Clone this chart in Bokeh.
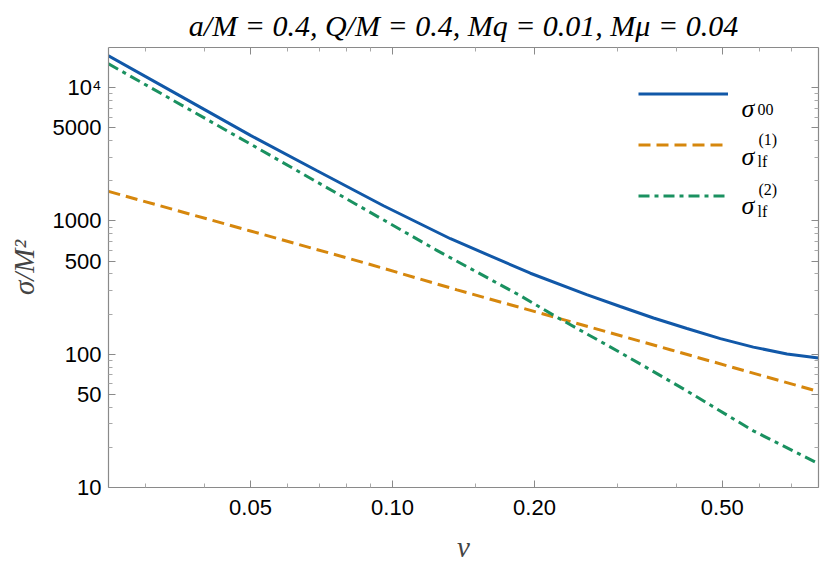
from bokeh.plotting import figure
from bokeh.models import (Range1d, LogAxis, FixedTicker, CustomJSTickFormatter,
                          Legend, LegendItem, Label)
from bokeh.core.properties import value
from bokeh.embed import file_html
from bokeh.resources import INLINE

# ---- data ----
v_00 = [0.025, 0.035, 0.050, 0.0692, 0.0957, 0.1327, 0.196, 0.258, 0.304, 0.3575, 0.421,
        0.4955, 0.582, 0.686, 0.8]
sigma_00 = [17300, 8900, 4380, 2377, 1300, 735, 405, 280, 228, 187, 156,
            131, 113, 100.5, 93.5]

v_lf1 = [0.025, 0.05, 0.0883, 0.137, 0.1866, 0.388, 0.8]
sigma_lf1 = [1665, 840, 479, 304, 224, 108, 52.5]

v_lf2 = [0.025, 0.05, 0.1236, 0.1866, 0.227, 0.304, 0.421, 0.582, 0.8]
sigma_lf2 = [15100, 3770, 607, 275, 183, 103, 53, 26.6, 15.1]

x_major = [0.05, 0.1, 0.2, 0.5]
x_labels = ["0.05", "0.10", "0.20", "0.50"]
x_minor = [0.03, 0.04, 0.06, 0.07, 0.08, 0.09, 0.15, 0.3, 0.4, 0.6, 0.7]

y_major = [10, 50, 100, 500, 1000, 5000, 10000]
y_labels = ["10", "50", "100", "500", "1000", "5000", "10\u2074"]
y_minor = [20, 30, 40, 60, 70, 80, 90, 200, 300, 400, 600, 700, 800, 900,
           2000, 3000, 4000, 6000, 7000, 8000, 9000]

title_text = "a/M = 0.4, Q/M = 0.4, Mq = 0.01, M\u03bc = 0.04"

BLUE = "#1158a8"
ORANGE = "#d6870d"
GREEN = "#1a9160"

SERIF = "Liberation Serif"
SANS = "Liberation Sans"

p = figure(width=822, height=569, x_axis_type="log", y_axis_type="log",
           x_range=Range1d(0.025, 0.8), y_range=Range1d(10, 20000),
           output_backend="svg", toolbar_location=None,
           min_border_left=108, min_border_right=4, min_border_top=46, min_border_bottom=82)
p.grid.visible = False
p.outline_line_color = None
p.background_fill_color = "white"
p.border_fill_color = "white"

def label_formatter(vals, labs):
    return CustomJSTickFormatter(args=dict(vals=vals, labs=labs), code="""
        for (let i = 0; i < vals.length; i++) {
            if (Math.abs(vals[i] - tick) <= 1e-9 * Math.abs(vals[i])) { return labs[i]; }
        }
        return "";
    """)

blank = CustomJSTickFormatter(code='return "";')

def style(ax, labels=True):
    ax.axis_line_color = "#8a8a8a"
    ax.axis_line_width = 1.2
    ax.major_tick_line_color = "#8a8a8a"
    ax.minor_tick_line_color = "#a8a8a8"
    ax.major_tick_in = 7
    ax.major_tick_out = 0
    ax.minor_tick_in = 4
    ax.minor_tick_out = 0
    if labels:
        ax.major_label_text_font = SANS
        ax.major_label_text_font_size = "22px"
        ax.major_label_text_color = "black"
    else:
        ax.major_label_text_font_size = "0px"
        ax.major_label_standoff = 0

xb = p.below[0]
xb.ticker = FixedTicker(ticks=x_major, minor_ticks=x_minor)
xb.formatter = label_formatter(x_major, x_labels)
style(xb)
xb.major_label_standoff = 12
xb.axis_label = "v"
xb.axis_label_text_font = SERIF
xb.axis_label_text_font_style = "italic"
xb.axis_label_text_font_size = "29px"
xb.axis_label_standoff = 13

yl = p.left[0]
yl.ticker = FixedTicker(ticks=y_major, minor_ticks=y_minor)
yl.formatter = label_formatter(y_major, y_labels)
style(yl)
yl.major_label_standoff = 7
yl.axis_label = "\u03c3/M\u00b2"
yl.axis_label_text_font = SERIF
yl.axis_label_text_font_style = "italic"
yl.axis_label_text_font_size = "29px"
yl.axis_label_standoff = 10

xt = LogAxis(ticker=FixedTicker(ticks=x_major, minor_ticks=x_minor), formatter=blank)
style(xt, labels=False)
p.add_layout(xt, "above")
yr = LogAxis(ticker=FixedTicker(ticks=y_major, minor_ticks=y_minor), formatter=blank)
style(yr, labels=False)
p.add_layout(yr, "right")

p.title.text = title_text
p.title.text_font = SERIF
p.title.text_font_style = "italic"
p.title.text_font_size = "30px"
p.title.text_color = "black"
p.title.align = "center"
p.title.standoff = 12

r0 = p.line(v_00, sigma_00, line_color=BLUE, line_width=3)
r1 = p.line(v_lf1, sigma_lf1, line_color=ORANGE, line_width=3, line_dash="12 6")
r2 = p.line(v_lf2, sigma_lf2, line_color=GREEN, line_width=3, line_dash="11 5 4 5")

legend = Legend(items=[LegendItem(label=value(" "), renderers=[r0]),
                       LegendItem(label=value(" "), renderers=[r1]),
                       LegendItem(label=value(" "), renderers=[r2])],
                location=(530, 281), glyph_width=90, glyph_height=21, label_height=21,
                spacing=30, padding=0, margin=0, border_line_alpha=0,
                background_fill_alpha=0, label_text_font_size="1px", label_standoff=0)
p.add_layout(legend)

def text_label(x, y, txt, size, style_="normal", align="left"):
    p.add_layout(Label(x=x, y=y, x_units="screen", y_units="screen", text=txt,
                       text_font=SERIF, text_font_style=style_, text_font_size=size,
                       text_baseline="alphabetic", text_align=align, text_color="black"))

# legend texts
main_size = "26px"
sub_size = "16px"
text_label(633, 379, "\u03c3", main_size, "italic")
text_label(649, 378, "00", sub_size)
text_label(633, 331, "\u03c3", main_size, "italic")
text_label(649, 326, "lf", sub_size)
text_label(650, 348, "(1)", sub_size)
text_label(633, 282, "\u03c3", main_size, "italic")
text_label(649, 276, "lf", sub_size)
text_label(650, 298, "(2)", sub_size)

open("out.html", "w").write(file_html(p, INLINE))
